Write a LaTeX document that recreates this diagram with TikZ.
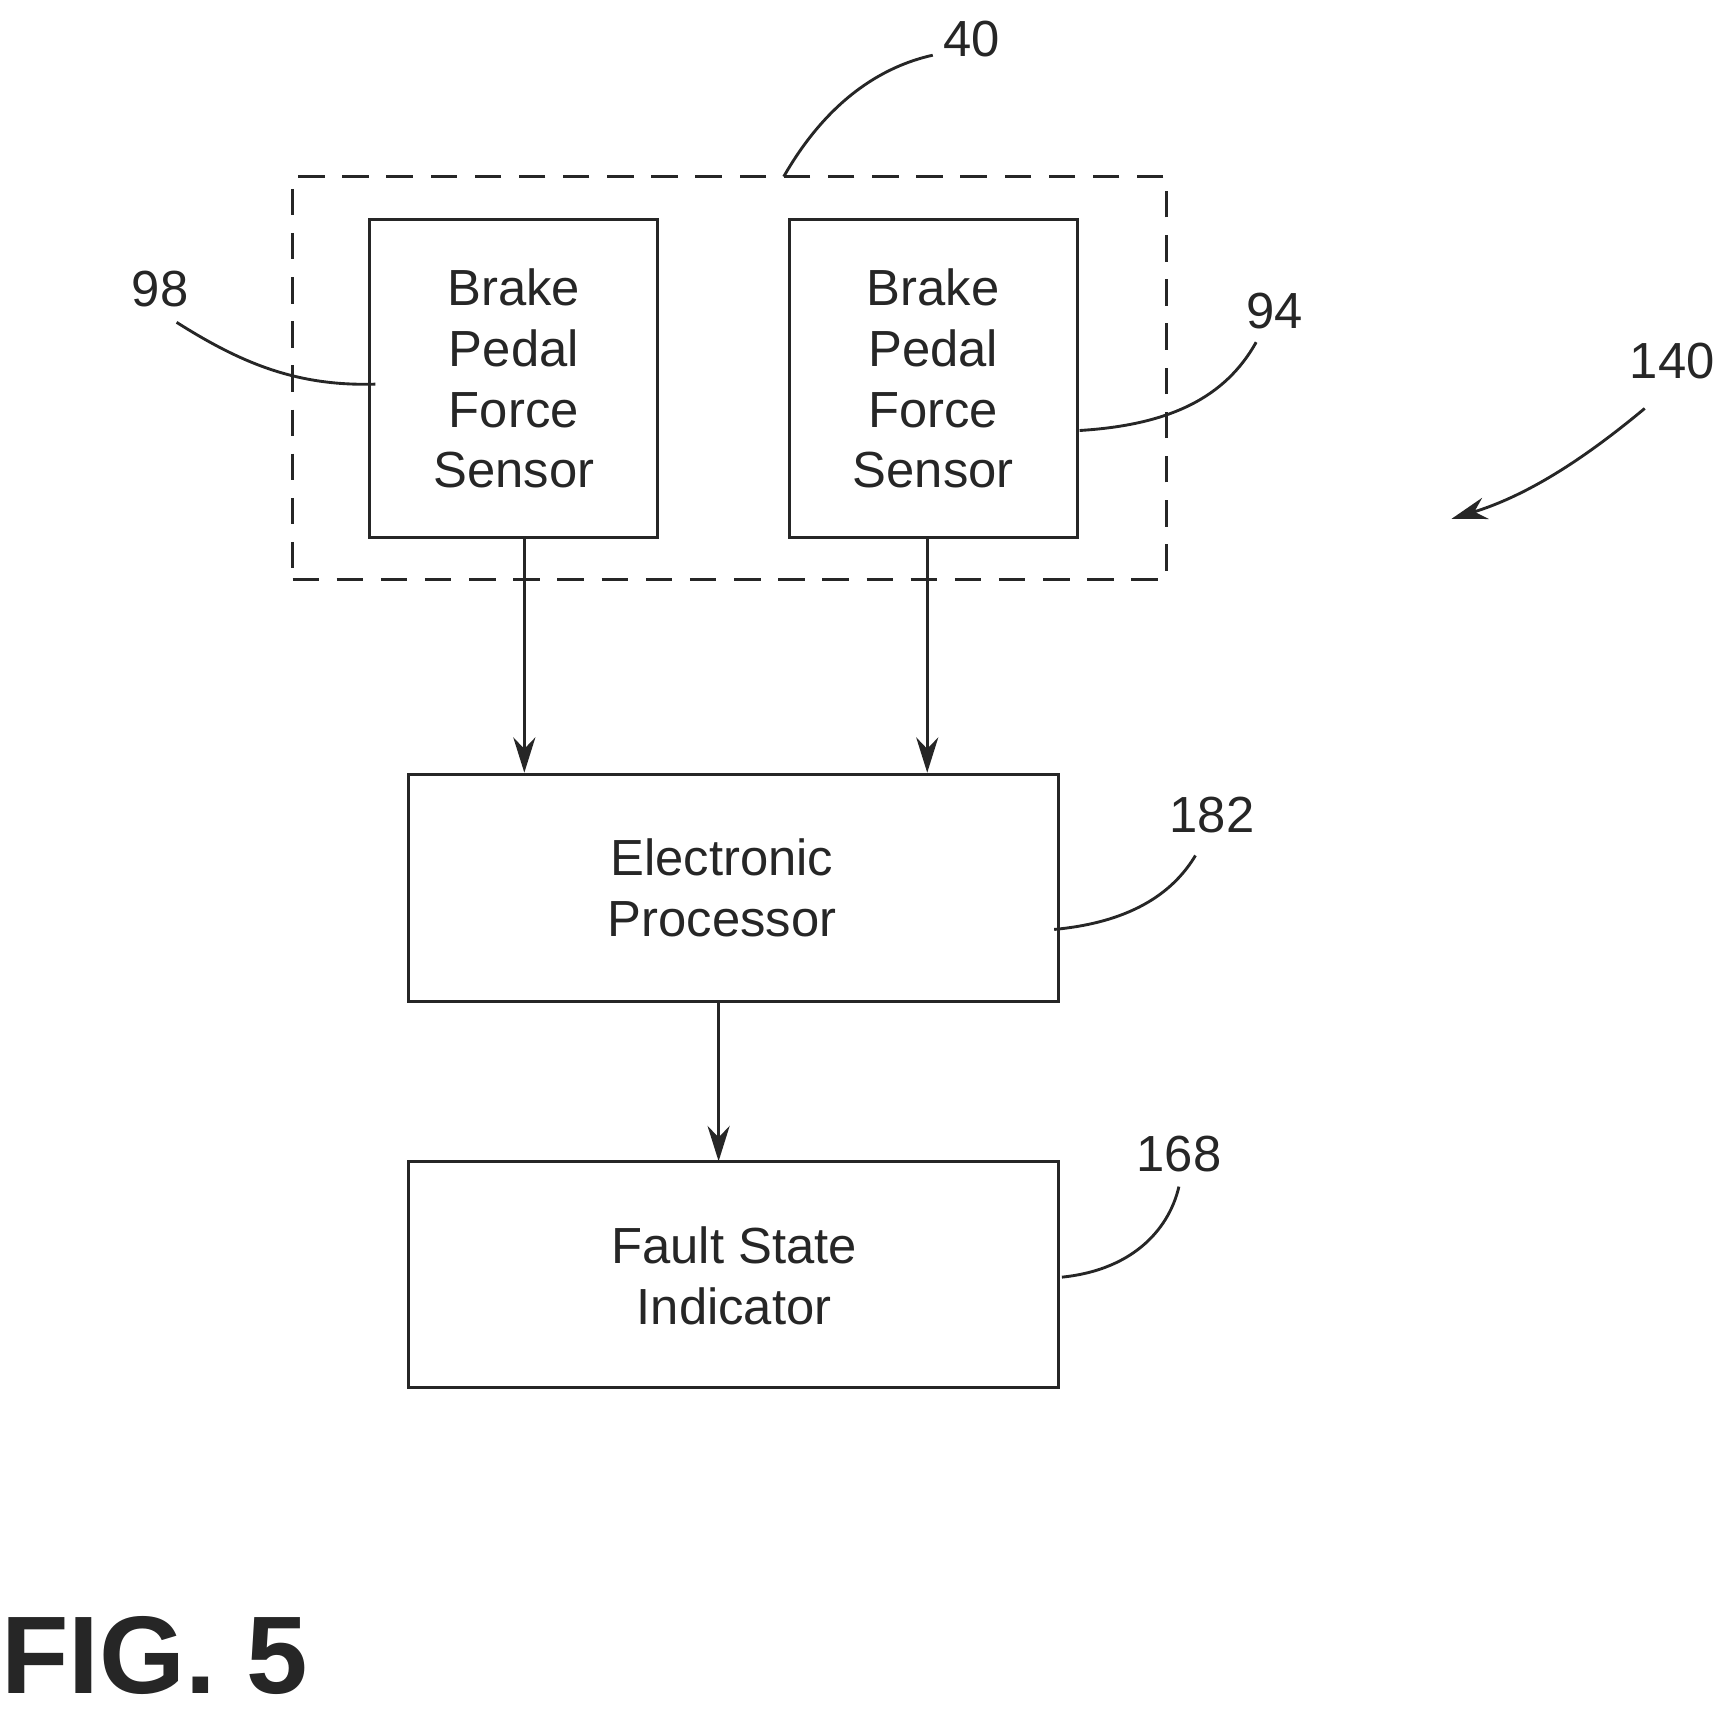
\documentclass[tikz,border=0pt]{standalone}
\usepackage{fontspec}
\setmainfont{Liberation Sans}
\usetikzlibrary{arrows.meta}
\begin{document}
\begin{tikzpicture}[x=0.5pt,y=-0.5pt,
  ln/.style={draw=black!85,line width=1.3pt},
  box/.style={ln,rectangle,inner sep=0pt},
  txt/.style={font=\fontsize{23}{27.5}\selectfont,align=center,text=black!85},
  lbl/.style={font=\fontsize{23}{27}\selectfont,text=black!85},
  arr/.style={ln,-{Stealth[length=16pt,width=10pt]}}]
\useasboundingbox (0,0) rectangle (1560,1553);
\node[box,dash pattern=on 12pt off 8pt,minimum width=396pt,minimum height=182.5pt] (grp) at (661,342.5) {};
\node[box,minimum width=130.5pt,minimum height=144pt] (s1) at (465.5,343) {};
\node[txt] at (s1) {Brake\\Pedal\\Force\\Sensor};
\node[box,minimum width=130.5pt,minimum height=144pt] (s2) at (845.5,343) {};
\node[txt] at (s2) {Brake\\Pedal\\Force\\Sensor};
\node[box,minimum width=294.5pt,minimum height=102.5pt] (ep) at (664.5,804.5) {};
\node[txt] at (654,804.5) {Electronic\\Processor};
\node[box,minimum width=294.5pt,minimum height=102.5pt] (fs) at (664.5,1154.5) {};
\node[txt] at (665,1155.5) {Fault State\\Indicator};
\coordinate (a1) at (475,487); \coordinate (b1) at (475,700);
\coordinate (a2) at (840,487); \coordinate (b2) at (840,700);
\coordinate (a3) at (651,907); \coordinate (b3) at (651,1052);
\draw[arr] (a1) -- (b1);
\draw[arr] (a2) -- (b2);
\draw[arr] (a3) -- (b3);
\node[lbl] (n40) at (880,35) {40};
\node[lbl] (n98) at (145,262) {98};
\node[lbl] (n94) at (1155,282) {94};
\node[lbl] (n140) at (1515,327) {140};
\node[lbl] (n182) at (1098,738) {182};
\node[lbl] (n168) at (1068,1045) {168};
\coordinate (c40) at (710,160); \coordinate (c98) at (340,348);
\coordinate (c94) at (978,390); \coordinate (c182) at (955,842);
\coordinate (c168) at (962,1157);
\draw[ln] (c40) .. controls (750,90) and (800,60) .. (845,50);
\draw[ln] (160,292) .. controls (220,330) and (270,350) .. (c98);
\draw[ln] (c94) .. controls (1060,385) and (1110,360) .. (1138,310);
\draw[ln] (c182) .. controls (1030,835) and (1065,805) .. (1083,775);
\draw[ln] (c168) .. controls (1030,1150) and (1060,1110) .. (1068,1075);
\draw[arr] (1490,370) .. controls (1430,420) and (1380,450) .. (1315,470);
\node[font=\fontsize{50}{50}\selectfont\bfseries,text=black!85] (fig) at (140,1500) {FIG. 5};
\end{tikzpicture}
\end{document}
